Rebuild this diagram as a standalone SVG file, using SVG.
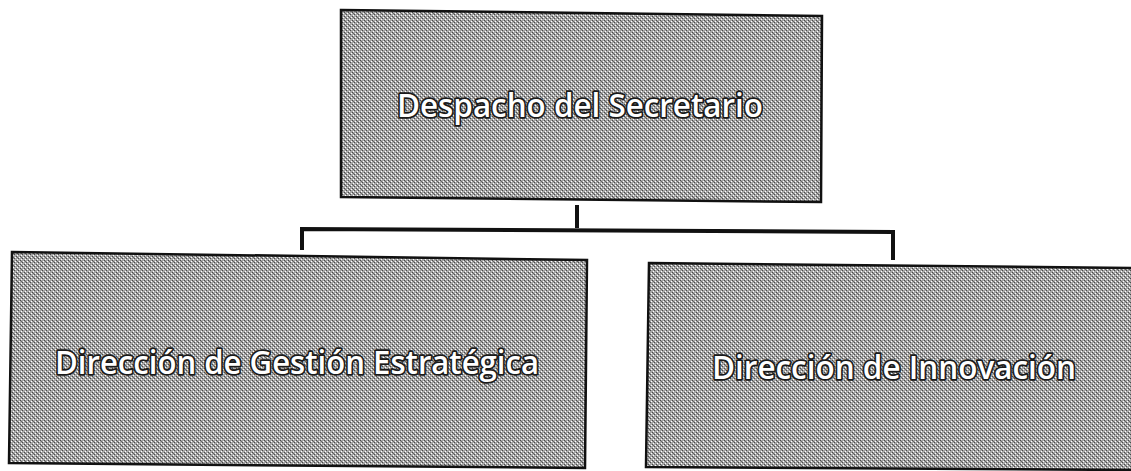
<svg xmlns="http://www.w3.org/2000/svg" width="1131" height="471" viewBox="0 0 1131 471">
<defs>
<pattern id="dither" width="4" height="4" patternUnits="userSpaceOnUse">
<rect width="4" height="4" fill="#a6a6a6"/>
<rect x="0" y="0" width="1" height="1" fill="#4a4a4a"/>
<rect x="2" y="2" width="1" height="1" fill="#4a4a4a"/>
<rect x="1" y="1" width="1" height="1" fill="#6a6a6a"/>
<rect x="1" y="3" width="1" height="1" fill="#ffffff"/>
<rect x="3" y="1" width="1" height="1" fill="#ffffff"/>
</pattern>
</defs>
<style>
.box{fill:url(#dither);stroke:#111;stroke-width:2.5}
.lbl{font-family:"Open Sans","Liberation Sans",sans-serif;font-size:33px;font-weight:600;fill:#fff;stroke:#1a1a1a;stroke-width:3.5;paint-order:stroke;stroke-linejoin:round;text-anchor:middle}
.conn{fill:none;stroke:#111;stroke-width:4}
</style>
<rect width="1131" height="471" fill="#fff"/>
<g id="connectors">
<path class="conn" d="M577 205 V228"/>
<path class="conn" d="M302 250 V229 L893 232 V260"/>
</g>
<g id="despacho">
<polygon class="box" points="341,10 822,16 821,202 341,197"/>
<text class="lbl" x="580" y="117" textLength="366" lengthAdjust="spacingAndGlyphs">Despacho del Secretario</text>
</g>
<g id="gestion">
<polygon class="box" points="12,252 587,260 585,468 9,463"/>
<text class="lbl" x="297" y="374" textLength="484" lengthAdjust="spacingAndGlyphs">Dirección de Gestión Estratégica</text>
</g>
<g id="innovacion">
<polygon class="box" points="649,263 1133,268 1133,470 646,467"/>
<text class="lbl" x="894" y="379" textLength="364" lengthAdjust="spacingAndGlyphs">Dirección de Innovación</text>
</g>
</svg>
